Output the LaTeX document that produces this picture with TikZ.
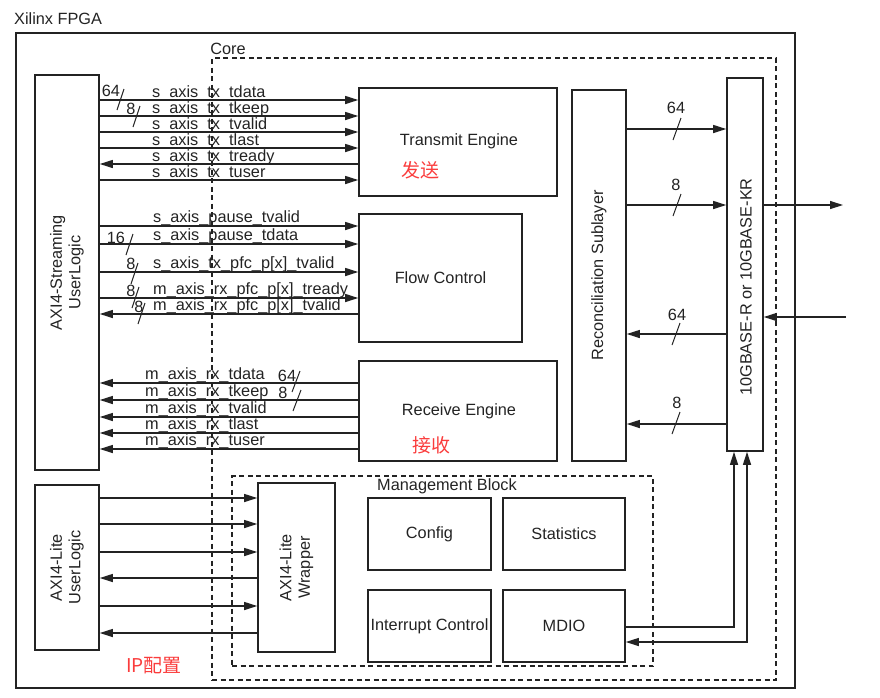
\documentclass[tikz,border=0pt]{standalone}
\usepackage{fontspec}
\setmainfont{Liberation Sans}
\newfontfamily\cjk{Noto Sans CJK SC}
\usetikzlibrary{arrows.meta}
\definecolor{ink}{RGB}{35,35,35}
\definecolor{redtxt}{RGB}{250,60,60}
\newcommand\myfs{\fontsize{16.3}{18.5}\selectfont}
\begin{document}
\begin{tikzpicture}[x=1pt,y=-1pt,
  blk/.style={draw=ink,line width=1.6pt,inner sep=0pt,text=ink,font=\myfs,align=center},
  dbox/.style={draw=ink,line width=1.1pt,dash pattern=on 5pt off 3.5pt,inner sep=0pt},
  sig/.style={draw=ink,line width=1.2pt},
  arr/.style={-{Triangle[length=13pt,width=8pt]}},
  larr/.style={{Triangle[length=13pt,width=8pt]}-},
  lbl/.style={anchor=base west,inner sep=0pt,text=ink,font=\myfs},
  txt/.style={inner sep=0pt,text=ink,font=\myfs,align=center},
  bus/.style={draw=ink,line width=1pt},
  red/.style={inner sep=0pt,text=redtxt,font=\cjk\fontsize{19}{21}\selectfont}]
\useasboundingbox (0,0) rectangle (880,697);

% frames
\node[blk,minimum width=779,minimum height=655] (fpga) at (405.5,360.5) {};
\node[txt,anchor=west] (fpgat) at (14,19) {Xilinx FPGA};
\node[dbox,minimum width=564,minimum height=622] (core) at (494,369) {};
\node[txt] (coret) at (228,49) {Core};
\node[dbox,minimum width=421,minimum height=190] (mgmt) at (442.5,571) {};
\node[txt] (mgmtt) at (447,486) {Management Block};

% blocks
\node[blk,minimum width=64,minimum height=395] (axis) at (67,272.5) {};
\node[txt,rotate=90] (axist) at (67,272.5) {AXI4-Streaming\\UserLogic};
\node[blk,minimum width=198,minimum height=108] (tx) at (458,142) {};
\node[txt] (txt1) at (459,141) {Transmit Engine};
\node[red] (fasong) at (420,170) {发送};
\node[blk,minimum width=163,minimum height=128] (fc) at (440.5,278) {Flow Control};
\node[blk,minimum width=198,minimum height=100] (rx) at (458,411) {};
\node[txt] (rxt) at (459,411) {Receive Engine};
\node[red] (jieshou) at (431,445) {接收};
\node[blk,minimum width=54,minimum height=371] (rs) at (599,275.5) {};
\node[txt,rotate=90] (rst) at (599,275.5) {Reconciliation Sublayer};
\node[blk,minimum width=36,minimum height=373] (phy) at (745,264.5) {};
\node[txt,rotate=90] (phyt) at (746,287) {10GBASE-R or 10GBASE-KR};

\node[blk,minimum width=64,minimum height=165] (axil) at (67,567.5) {};
\node[txt,rotate=90] (axilt) at (67,567.5) {AXI4-Lite\\UserLogic};
\node[blk,minimum width=77,minimum height=169] (wrap) at (296.5,567.5) {};
\node[txt,rotate=90] (wrapt) at (296.5,567.5) {AXI4-Lite\\Wrapper};
\node[blk,minimum width=123,minimum height=72] (cfg) at (429.5,534) {Config};
\node[blk,minimum width=122,minimum height=72] (stat) at (564,534) {Statistics};
\node[blk,minimum width=123,minimum height=72] (intr) at (429.5,626) {Interrupt Control};
\node[blk,minimum width=122,minimum height=72] (mdio) at (564,626) {MDIO};
\node[red] (ipcfg) at (154,666) {IP配置};

% transmit signals
\foreach \y/\t/\d in {100/s\_axis\_tx\_tdata/arr,116/s\_axis\_tx\_tkeep/arr,132/s\_axis\_tx\_tvalid/arr,148/s\_axis\_tx\_tlast/arr,164/s\_axis\_tx\_tready/larr,180/s\_axis\_tx\_tuser/arr}{
  \draw[sig,\d] (axis.east |- 0,\y) -- (tx.west |- 0,\y);
  \node[lbl] (t\y) at (152,\y-3) {\t};
}
% flow control signals
\foreach \y/\t/\d in {226/{s\_axis\_pause\_tvalid}/arr,244/{s\_axis\_pause\_tdata}/arr,272/{s\_axis\_tx\_pfc\_p[x]\_tvalid}/arr,298/{m\_axis\_rx\_pfc\_p[x]\_tready}/arr,314/{m\_axis\_rx\_pfc\_p[x]\_tvalid}/larr}{
  \draw[sig,\d] (axis.east |- 0,\y) -- (fc.west |- 0,\y);
  \node[lbl] (f\y) at (153,\y-4) {\t};
}
% receive signals
\foreach \y/\t in {383/m\_axis\_rx\_tdata,400/m\_axis\_rx\_tkeep,417/m\_axis\_rx\_tvalid,433/m\_axis\_rx\_tlast,449/m\_axis\_rx\_tuser}{
  \draw[sig,larr] (axis.east |- 0,\y) -- (rx.west |- 0,\y);
  \node[lbl] (r\y) at (145,\y-4) {\t};
}
% AXI4-Lite signals
\foreach \y/\d in {498/arr,524/arr,552/arr,578/larr,606/arr,633/larr}{
  \draw[sig,\d] (axil.east |- 0,\y) -- (wrap.west |- 0,\y);
}

% bus width marks (left)
\draw[bus] (117,110) -- (124,89);  \node[txt] (w1) at (111,91) {64};
\draw[bus] (133,127) -- (140,106); \node[txt] (w2) at (131,109) {8};
\draw[bus] (126,255) -- (133,234); \node[txt] (w3) at (116,238) {16};
\draw[bus] (131,284) -- (138,263); \node[txt] (w4) at (131,264) {8};
\draw[bus] (132,308) -- (139,287); \node[txt] (w5) at (131,291) {8};
\draw[bus] (138,324) -- (145,303); \node[txt] (w6) at (139,307) {8};
\draw[bus] (292,392) -- (300,371); \node[txt] (w7) at (287,376) {64};
\draw[bus] (293,411) -- (301,390); \node[txt] (w8) at (283,393) {8};

% RS <-> PHY
\draw[sig,arr] (rs.east |- 0,129) -- (phy.west |- 0,129);
\draw[sig,arr] (rs.east |- 0,205) -- (phy.west |- 0,205);
\draw[sig,larr] (rs.east |- 0,334) -- (phy.west |- 0,334);
\draw[sig,larr] (rs.east |- 0,424) -- (phy.west |- 0,424);
\draw[bus] (673,140) -- (681,118); \node[txt] (w9) at (676,108) {64};
\draw[bus] (673,216) -- (681,194); \node[txt] (w10) at (676,185) {8};
\draw[bus] (672,345) -- (680,323); \node[txt] (w11) at (677,315) {64};
\draw[bus] (672,434) -- (680,412); \node[txt] (w12) at (677,403) {8};

% external serial
\coordinate (txout) at (843,205);
\coordinate (rxin) at (846,317);
\draw[sig,arr] (phy.east |- txout) -- (txout);
\draw[sig,arr] (rxin) -- (phy.east |- rxin);

% MDIO
\coordinate (m1) at (734,627);
\coordinate (m2) at (747,642);
\draw[sig,arr] (mdio.east |- m1) -- (m1) -- (phy.south -| m1);
\draw[sig,{Triangle[length=13pt,width=8pt]}-{Triangle[length=13pt,width=8pt]}] (mdio.east |- m2) -- (m2) -- (phy.south -| m2);
\end{tikzpicture}
\end{document}
